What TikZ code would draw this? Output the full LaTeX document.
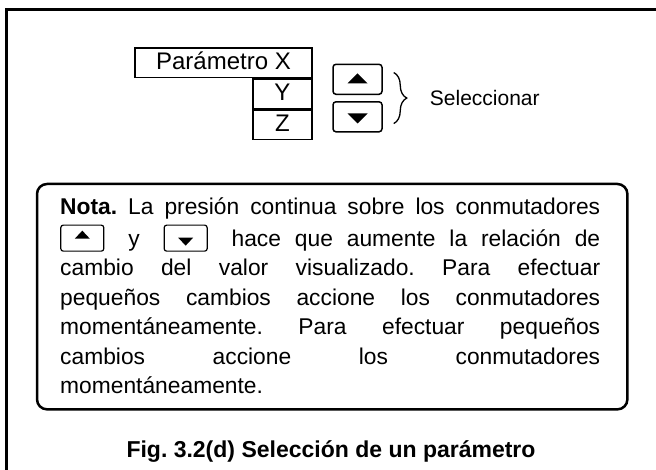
\documentclass[tikz,border=0pt]{standalone}
\usepackage{fontspec}
\setmainfont{Liberation Sans}
\usepackage{tikz}
\usetikzlibrary{positioning, calc, decorations.pathreplacing}

\tolerance=10000
\hyphenpenalty=10000
\frenchspacing

%% inline keys for the note text
\newsavebox{\upkeybox}
\newsavebox{\downkeybox}
\sbox{\upkeybox}{\tikz[x=1pt,y=1pt,baseline=5pt]{
  \draw[line width=1.2pt, rounded corners=2.5pt] (0,0) rectangle (43,26);
  \fill (14,12.5) -- (29,12.5) -- (21.5,20.5) -- cycle;}}
\sbox{\downkeybox}{\tikz[x=1pt,y=1pt,baseline=5pt]{
  \draw[line width=1.2pt, rounded corners=2.5pt] (0,0) rectangle (43,26);
  \fill (14,13.5) -- (29,13.5) -- (21.5,5.5) -- cycle;}}

\begin{document}
\begin{tikzpicture}[
  x=1pt, y=-1pt,
  parbox/.style   = {rectangle, draw, line width=1.5pt, inner sep=0pt, minimum height=29.5pt,
                     text height=14pt, text depth=0pt, font=\fontsize{24}{28}\selectfont},
  keybox/.style   = {rectangle, draw, line width=1.5pt, rounded corners=3pt,
                     minimum width=49pt, minimum height=30pt, inner sep=0pt},
  seltext/.style  = {anchor=west, inner sep=0pt, font=\fontsize{21}{25}\selectfont},
  notatext/.style = {anchor=north west, inner sep=0pt, text width=540pt, align=justify,
                     font=\fontsize{22.8}{29.5}\selectfont},
  notaframe/.style= {draw, line width=2.5pt, rounded corners=10pt},
  captext/.style  = {anchor=base, inner sep=0pt, font=\fontsize{23}{28}\selectfont\bfseries},
  frameline/.style= {line width=3pt},
  brc/.style      = {decorate, decoration={brace, amplitude=13pt}, line width=1.3pt},
]
\path[use as bounding box, fill=white] (0,0) rectangle (656,470);

%% --- Outer frame ---
\draw[frameline] (656,10) -- (6,10) -- (6,470);

%% --- Parameter boxes ---
\node[parbox, minimum width=177pt] (parx) at (223.5,63) {Parámetro X};
\node[parbox, minimum width=59pt, anchor=north east] (pary) at (parx.south east) {Y};
\node[parbox, minimum width=59pt, below=0pt of pary] (parz) {Z};

%% --- Keys ---
\node[keybox] (keyup) at (357.5,79.3) {};
\node[keybox, below=6pt of keyup] (keydn) {};
\fill[shift={(keyup.center)}] (-10,4) -- (10,4) -- (0,-6) -- cycle;
\fill[shift={(keydn.center)}] (-10,-3.3) -- (10,-3.3) -- (0,6.7) -- cycle;

%% --- Brace + label ---
\draw[brc] ($(keyup.north east)+(11,9)$) -- ($(keydn.south east)+(11,-9)$);
\node[seltext] (sel) at ($(keyup.east)!.5!(keydn.east)+(47,0)$) {Seleccionar};

%% --- Note ---
\node[notatext] (nota) at (60,193.85) {\noindent\strut\textbf{Nota.} La presión continua sobre los conmutadores\linebreak
  \usebox{\upkeybox}\hspace{10pt} y \hspace{10pt}\usebox{\downkeybox}\hspace{10pt} hace que aumente la relación de\linebreak
  cambio del valor visualizado. Para efectuar\linebreak
  pequeños cambios accione los conmutadores\linebreak
  momentáneamente. Para efectuar pequeños\linebreak
  cambios accione los conmutadores\linebreak
  momentáneamente.\strut};
\draw[notaframe] ($(nota.north west)+(-23,-9.85)$) rectangle ($(nota.south east)+(27,6.65)$);

%% --- Caption ---
\node[captext] (cap) at (331,457) {Fig. 3.2(d) Selección de un parámetro};

\end{tikzpicture}
\end{document}
